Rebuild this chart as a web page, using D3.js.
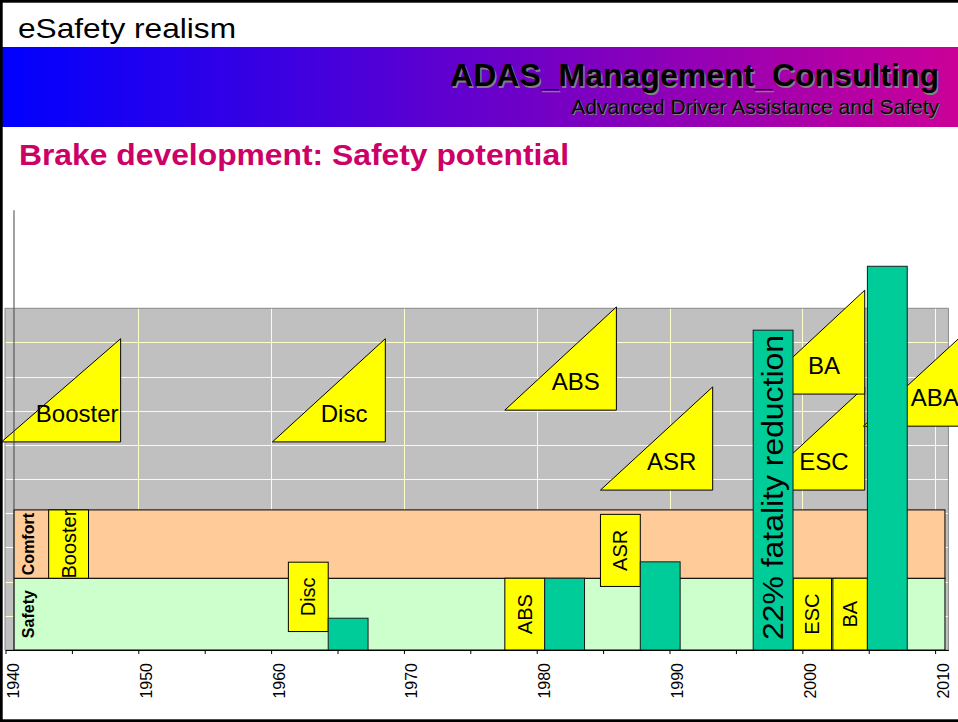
<!DOCTYPE html>
<html>
<head>
<meta charset="utf-8">
<script src="https://cdn.jsdelivr.net/npm/d3@7"></script>
<style>
  html, body { margin: 0; padding: 0; background: #fff; }
  svg { display: block; font-family: Arial, "Liberation Sans", sans-serif; }
</style>
</head>
<body>
<script>
// time axis
const tickYears = d3.range(1940, 2011, 5);

// background bands (y in chart units)
const bandNames = ["Safety", "Comfort"];
const bandLow = [0, 2.1];
const bandHigh = [2.1, 4.1];
const bandColors = ["#ccffcc", "#ffcc99"];
const bandFrom = 1940.64, bandTo = 2010.74;

// yellow introduction boxes inside the bands
const boxNames = ["Booster", "Disc", "ABS", "ASR", "ESC", "BA"];
const boxStart = [1943.25, 1961.3, 1977.6, 1984.8, 1999.3, 2002.3];
const boxEnd = [1946.25, 1964.3, 1980.6, 1987.8, 2002.2, 2004.9];
const boxLow = [2.1, 0.54, 0, 1.86, 0, 0];
const boxHigh = [4.1, 2.57, 2.1, 3.97, 2.1, 2.1];

// safety potential bars
const barStart = [1964.3, 1980.6, 1987.8, 1996.3, 2004.9];
const barEnd = [1967.3, 1983.6, 1990.8, 1999.3, 2007.9];
const barValue = [0.93, 2.1, 2.58, 9.36, 11.23];
const barLabel = ["", "", "", "22% fatality reduction", ""];

// triangles (system ramp-up)
const triNames = ["Booster", "Disc", "ABS", "ASR", "ESC", "BA", "ABA"];
const triStart = [1939.7, 1960.1, 1977.6, 1984.8, 1996.3, 1996.3, 2004.6];
const triEnd = [1948.67, 1968.6, 1986.0, 1993.25, 2004.7, 2004.7, 2013.05];
const triLow = [6.09, 6.09, 7.02, 4.68, 4.68, 7.49, 6.55];
const triHigh = [9.11, 9.11, 10.04, 7.70, 7.70, 10.53, 9.57];

const width = 958, height = 722;

const svg = d3.select("body").append("svg")
  .attr("width", width)
  .attr("height", height);

// header
svg.append("text")
  .attr("x", 18).attr("y", 38)
  .attr("font-size", 28)
  .attr("textLength", 218).attr("lengthAdjust", "spacingAndGlyphs")
  .text("eSafety realism");

const grad = svg.append("defs").append("linearGradient")
  .attr("id", "band").attr("x1", "0%").attr("x2", "100%");
grad.append("stop").attr("offset", "0%").attr("stop-color", "#0000ff");
grad.append("stop").attr("offset", "100%").attr("stop-color", "#cc0099");

svg.append("rect")
  .attr("x", 0).attr("y", 47)
  .attr("width", width).attr("height", 80)
  .attr("fill", "url(#band)");

[["#808080", 1.5], ["#000", 0]].forEach(([col, off]) => {
  svg.append("text")
    .attr("x", 939 + off).attr("y", 86 + off)
    .attr("text-anchor", "end")
    .attr("font-size", 32).attr("font-weight", "bold")
    .attr("fill", col)
    .text("ADAS_Management_Consulting");
  svg.append("text")
    .attr("x", 939 + off * 0.7).attr("y", 114 + off * 0.7)
    .attr("text-anchor", "end")
    .attr("font-size", 21)
    .attr("fill", col)
    .text("Advanced Driver Assistance and Safety");
});

svg.append("text")
  .attr("x", 19).attr("y", 164.5)
  .attr("font-size", 29.5).attr("font-weight", "bold")
  .attr("fill", "#cc0066")
  .attr("textLength", 550).attr("lengthAdjust", "spacingAndGlyphs")
  .text("Brake development: Safety potential");

// scales
const x = d3.scaleLinear().domain([1940, 2011]).range([5.5, 948.4]);
const y = d3.scaleLinear().domain([0, 10]).range([650, 308.3]);

// plot area
svg.append("rect")
  .attr("x", x(1940) - 0.5).attr("y", y(10))
  .attr("width", x(2011) - x(1940) + 0.5).attr("height", y(0) - y(10))
  .attr("fill", "#c0c0c0")
  .attr("stroke", "#8a8a8a");

const grid = svg.append("g").attr("stroke", "#ffffcc").attr("stroke-width", 1);
grid.selectAll("line.h")
  .data(d3.range(1, 10))
  .enter().append("line")
  .attr("x1", x(1940)).attr("x2", x(2011) - 0.5)
  .attr("y1", d => Math.round(y(d)) + 0.5).attr("y2", d => Math.round(y(d)) + 0.5);
grid.selectAll("line.v")
  .data(d3.range(1950, 2011, 10))
  .enter().append("line")
  .attr("x1", d => Math.round(x(d)) + 0.5).attr("x2", d => Math.round(x(d)) + 0.5)
  .attr("y1", y(10) + 0.5).attr("y2", y(0));

// triangles
const tri = svg.append("g");
triNames.forEach((name, i) => {
  const x0 = x(triStart[i]), x1 = x(triEnd[i]);
  const yb = y(triLow[i]), yt = y(triHigh[i]);
  tri.append("path")
    .attr("d", d3.line()([[x0, yb], [x1, yb], [x1, yt]]) + "Z")
    .attr("fill", "#ffff00")
    .attr("stroke", "#000")
    .attr("stroke-width", 1);
  tri.append("text")
    .attr("x", x0 + 0.635 * (x1 - x0))
    .attr("y", yb - 20)
    .attr("text-anchor", "middle")
    .attr("font-size", 24)
    .text(name);
});

// bands
bandNames.forEach((name, i) => {
  svg.append("rect")
    .attr("x", x(bandFrom)).attr("y", y(bandHigh[i]))
    .attr("width", x(bandTo) - x(bandFrom))
    .attr("height", y(bandLow[i]) - y(bandHigh[i]))
    .attr("fill", bandColors[i])
    .attr("stroke", "#000");
  const cy = (y(bandLow[i]) + y(bandHigh[i])) / 2;
  svg.append("text")
    .attr("transform", `translate(28,${cy}) rotate(-90)`)
    .attr("text-anchor", "middle")
    .attr("dominant-baseline", "central")
    .attr("font-size", 16).attr("font-weight", "bold")
    .text(name);
});

// yellow boxes
boxNames.forEach((name, i) => {
  const x0 = x(boxStart[i]), x1 = x(boxEnd[i]);
  const y0 = y(boxHigh[i]), y1 = y(boxLow[i]);
  svg.append("rect")
    .attr("x", x0).attr("y", y0)
    .attr("width", x1 - x0).attr("height", y1 - y0)
    .attr("fill", "#ffff00")
    .attr("stroke", "#000");
  svg.append("text")
    .attr("transform", `translate(${(x0 + x1) / 2},${(y0 + y1) / 2}) rotate(-90)`)
    .attr("text-anchor", "middle")
    .attr("dominant-baseline", "central")
    .attr("font-size", 20)
    .text(name);
});

// bars
barValue.forEach((v, i) => {
  const x0 = x(barStart[i]), x1 = x(barEnd[i]);
  svg.append("rect")
    .attr("x", x0).attr("y", y(v))
    .attr("width", x1 - x0).attr("height", y(0) - y(v))
    .attr("fill", "#00cc99")
    .attr("stroke", "#1a1a1a");
  if (barLabel[i]) {
    svg.append("text")
      .attr("transform", `translate(${(x0 + x1) / 2},${y(0) - 10}) rotate(-90)`)
      .attr("dominant-baseline", "central")
      .attr("font-size", 29)
      .attr("textLength", 305).attr("lengthAdjust", "spacingAndGlyphs")
      .text(barLabel[i]);
  }
});

// vertical axis line
svg.append("line")
  .attr("x1", x(bandFrom)).attr("x2", x(bandFrom))
  .attr("y1", y(12.87)).attr("y2", y(0))
  .attr("stroke", "#444");

// x axis
const xAxis = svg.append("g")
  .attr("transform", `translate(0,${y(0)})`)
  .call(d3.axisBottom(x)
    .tickValues(tickYears)
    .tickSize(4)
    .tickSizeOuter(0)
    .tickFormat(d => d % 10 === 0 ? d : ""));
xAxis.attr("font-size", null).attr("font-family", null);
xAxis.select(".domain").attr("stroke", "#000");
xAxis.selectAll(".tick line").attr("stroke", "#000");
xAxis.selectAll(".tick text")
  .attr("transform", "rotate(-90)")
  .attr("x", -13).attr("y", 13).attr("dy", 0)
  .style("text-anchor", "end")
  .style("font-size", "16px")
  .style("font-family", "Arial, 'Liberation Sans', sans-serif")
  .attr("fill", "#000");

// page frame
svg.append("rect")
  .attr("x", 1.35).attr("y", 1.35)
  .attr("width", 1000).attr("height", 719.3)
  .attr("fill", "none")
  .attr("stroke", "#000")
  .attr("stroke-width", 2.7);
</script>
</body>
</html>
